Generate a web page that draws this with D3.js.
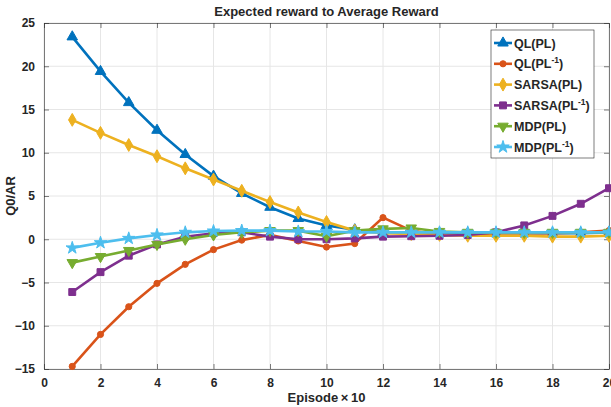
<!DOCTYPE html>
<html>
<head>
  <meta charset="utf-8" />
  <style>
    body { margin: 0; background: #ffffff; }
    svg text { font-family: Arial, 'Liberation Sans', sans-serif; font-weight: bold; fill: #262626; }
  </style>
  <script src="https://cdnjs.cloudflare.com/ajax/libs/d3/7.8.5/d3.min.js"></script>
</head>
<body>
  <div id="chart"></div>
  <script>
    // episodes (x10)
    var episodes = [1, 2, 3, 4, 5, 6, 7, 8, 9, 10, 11, 12, 13, 14, 15, 16, 17, 18, 19, 20];

    var qlPL     = [23.4, 19.4, 15.8, 12.6, 9.8, 7.3, 5.3, 3.7, 2.4, 1.6, 1.1, 0.8, 0.8, 0.7, 0.7, 0.7, 0.7, 0.7, 0.7, 0.8];
    var qlPLinv  = [-14.7, -11.0, -7.8, -5.1, -2.9, -1.2, -0.1, 0.5, -0.2, -0.9, -0.5, 2.5, 1.0, 0.5, 0.5, 0.7, 0.7, 0.7, 0.8, 1.0];
    var sarsaPL  = [13.8, 12.3, 10.9, 9.6, 8.2, 6.9, 5.6, 4.3, 3.1, 2.0, 1.0, 0.7, 0.6, 0.5, 0.4, 0.4, 0.4, 0.3, 0.3, 0.4];
    var sarsaPLinv = [-6.1, -3.8, -1.9, -0.6, 0.3, 0.7, 0.8, 0.3, 0.0, 0.0, 0.1, 0.3, 0.35, 0.4, 0.5, 0.8, 1.6, 2.7, 4.1, 5.9];
    var mdpPL    = [-2.7, -2.0, -1.3, -0.6, 0.0, 0.5, 0.8, 1.0, 1.0, 0.35, 1.0, 1.2, 1.3, 0.9, 0.8, 0.8, 0.8, 0.8, 0.8, 0.8];
    var mdpPLinv = [-1.0, -0.4, 0.1, 0.5, 0.8, 0.95, 1.0, 1.0, 0.9, 0.9, 0.8, 0.8, 0.8, 0.8, 0.8, 0.8, 0.8, 0.8, 0.8, 0.8];

    var xTicks = [0, 2, 4, 6, 8, 10, 12, 14, 16, 18, 20];
    var yTicks = [-15, -10, -5, 0, 5, 10, 15, 20, 25];

    var series = [
      { name: "QL(PL)", sup: null, values: qlPL, color: "#0072BD", marker: d3.symbolTriangle },
      { name: "QL(PL", sup: "-1", values: qlPLinv, color: "#D95319", marker: d3.symbolCircle },
      { name: "SARSA(PL)", sup: null, values: sarsaPL, color: "#EDB120", marker: d3.symbolDiamond },
      { name: "SARSA(PL", sup: "-1", values: sarsaPLinv, color: "#7E2F8E", marker: d3.symbolSquare },
      { name: "MDP(PL)", sup: null, values: mdpPL, color: "#77AC30", marker: "down" },
      { name: "MDP(PL", sup: "-1", values: mdpPLinv, color: "#4DBEEE", marker: d3.symbolStar }
    ];

    var w = 611, h = 407;
    var margin = { top: 23, right: 2, bottom: 38, left: 44 };
    var width = w - margin.left - margin.right,
        height = h - margin.top - margin.bottom;

    var svg = d3.select("#chart").append("svg")
      .attr("width", w)
      .attr("height", h);

    var g = svg.append("g")
      .attr("transform", "translate(" + margin.left + "," + margin.top + ")");

    var x = d3.scaleLinear().domain([0, 20]).range([0, width]);
    var y = d3.scaleLinear().domain([-15, 25]).range([height, 0]);

    // grid
    g.append("g").selectAll("line").data(xTicks).enter().append("line")
      .attr("x1", function (d) { return x(d); }).attr("x2", function (d) { return x(d); })
      .attr("y1", 0).attr("y2", height)
      .attr("stroke", "#e6e6e6").attr("stroke-width", 1);
    g.append("g").selectAll("line").data(yTicks).enter().append("line")
      .attr("y1", function (d) { return y(d); }).attr("y2", function (d) { return y(d); })
      .attr("x1", 0).attr("x2", width)
      .attr("stroke", "#e6e6e6").attr("stroke-width", 1);

    // axes
    g.append("g").attr("transform", "translate(0," + height + ")")
      .call(d3.axisBottom(x).tickValues(xTicks).tickSizeInner(-5).tickSizeOuter(0).tickPadding(9));
    g.append("g")
      .call(d3.axisLeft(y).tickValues(yTicks).tickSizeInner(-5).tickSizeOuter(0).tickPadding(9));
    g.append("g")
      .call(d3.axisTop(x).tickValues(xTicks).tickSizeInner(-5).tickSizeOuter(0).tickFormat(""));
    g.append("g").attr("transform", "translate(" + width + ",0)")
      .call(d3.axisRight(y).tickValues(yTicks).tickSizeInner(-5).tickSizeOuter(0).tickFormat(""));
    g.selectAll(".domain, .tick line").attr("stroke", "#262626").attr("stroke-width", 0.6);
    g.selectAll(".tick text").attr("font-size", "12px").attr("font-weight", "bold");

    // lines
    var line = d3.line()
      .x(function (d, i) { return x(episodes[i]); })
      .y(function (d) { return y(d); });

    function markerPath(m, size) {
      if (m === "down") {
        return d3.symbol().type(d3.symbolTriangle).size(size)();
      }
      return d3.symbol().type(m).size(size)();
    }

    series.forEach(function (s) {
      g.append("path")
        .datum(s.values)
        .attr("fill", "none")
        .attr("stroke", s.color)
        .attr("stroke-width", 2.6)
        .attr("d", line);
      g.append("g").selectAll("path").data(s.values).enter().append("path")
        .attr("d", markerPath(s.marker, s.marker === d3.symbolCircle ? 30 : 48))
        .attr("transform", function (d, i) {
          return "translate(" + x(episodes[i]) + "," + y(d) + ")" + (s.marker === "down" ? " rotate(180)" : "");
        })
        .attr("fill", s.color)
        .attr("stroke", s.color)
        .attr("stroke-width", 1);
    });

    // title and labels
    svg.append("text").attr("x", margin.left + width / 2).attr("y", 16)
      .attr("text-anchor", "middle").attr("font-size", "13px").text("Expected reward to Average Reward");
    svg.append("text").attr("x", margin.left + width / 2).attr("y", 402)
      .attr("text-anchor", "middle").attr("font-size", "13px").text("Episode\u2009\u00d7\u200910");
    svg.append("text").attr("transform", "translate(15," + (margin.top + height / 2) + ") rotate(-90)")
      .attr("text-anchor", "middle").attr("font-size", "13px").text("Q0/AR");

    // legend
    var lg = svg.append("g").attr("transform", "translate(491,30)");
    lg.append("rect").attr("width", 103).attr("height", 128)
      .attr("fill", "#ffffff").attr("stroke", "#262626").attr("stroke-width", 0.6);
    series.forEach(function (s, i) {
      var yy = 13 + i * 20.8;
      lg.append("line").attr("x1", 3).attr("x2", 21).attr("y1", yy).attr("y2", yy)
        .attr("stroke", s.color).attr("stroke-width", 2.6);
      lg.append("path").attr("d", markerPath(s.marker, s.marker === d3.symbolCircle ? 30 : 48))
        .attr("transform", "translate(12," + yy + ")" + (s.marker === "down" ? " rotate(180)" : ""))
        .attr("fill", s.color).attr("stroke", s.color);
      var t = lg.append("text").attr("x", 23).attr("y", yy + 4.5).attr("font-size", "12.5px");
      t.append("tspan").text(s.name);
      if (s.sup) {
        t.append("tspan").attr("dy", -5).attr("font-size", "8.5px").text(s.sup);
        t.append("tspan").attr("dy", 5).text(")");
      }
    });
  </script>
</body>
</html>
